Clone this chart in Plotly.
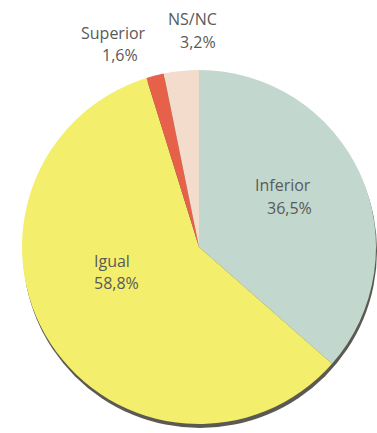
import plotly.graph_objects as go

# Survey answer shares (%)
categories = ["Inferior", "Igual", "Superior", "NS/NC"]
shares = [36.5, 58.8, 1.6, 3.2]
colors = ["#c2d7cd", "#f3ee6c", "#e6604a", "#f3dccb"]

W, H = 377, 433

def px_domain(cx, cy, r):
    return dict(x=[(cx - r) / W, (cx + r) / W],
                y=[1 - (cy + r) / H, 1 - (cy - r) / H])

cx, cy, r = 199, 247, 177

fig = go.Figure()

# drop shadow under the pie (lower-right edge)
fig.add_trace(go.Pie(
    values=[1], labels=["shadow"], marker=dict(colors=["rgba(62,60,50,0.85)"], line=dict(width=0)),
    textinfo="none", hoverinfo="skip", sort=False, showlegend=False,
    domain=px_domain(cx + 1, cy + 4, r),
))

fig.add_trace(go.Pie(
    values=shares, labels=categories,
    marker=dict(colors=colors, line=dict(width=0)),
    textinfo="none", sort=False, direction="clockwise", rotation=0,
    showlegend=False, domain=px_domain(cx, cy, r),
))

def fmt(v):
    return f"{v:.1f}".replace(".", ",") + "%"

# label line centres (pixels): name line, value line
label_pos = {
    "Inferior": [(283, 185), (289, 208)],
    "Igual": [(112, 261), (116, 283)],
    "Superior": [(113, 33), (120, 55)],
    "NS/NC": [(192, 19), (198, 42)],
}

annotations = []
for name, val in zip(categories, shares):
    (x1, y1), (x2, y2) = label_pos[name]
    for txt, (x, y) in ((name, (x1, y1)), (fmt(val), (x2, y2))):
        annotations.append(dict(
            text=txt, x=x / W, y=1 - y / H, xref="paper", yref="paper",
            showarrow=False, xanchor="center", yanchor="middle",
            font=dict(family="Open Sans", size=16, color="#5a5a5a"),
        ))

fig.update_layout(
    width=W, height=H, margin=dict(l=0, r=0, t=0, b=0),
    paper_bgcolor="white", plot_bgcolor="white",
    annotations=annotations,
)

fig.write_html("out.html")
